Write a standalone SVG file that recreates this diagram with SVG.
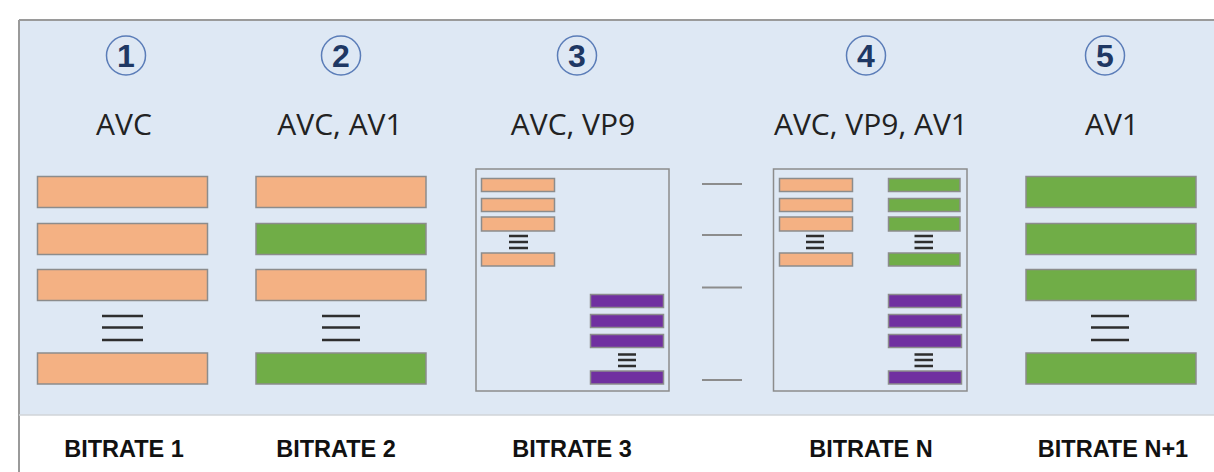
<svg xmlns="http://www.w3.org/2000/svg" width="1214" height="472" viewBox="0 0 1214 472">
<style>
.org{fill:#F4B183;stroke:#8C8C8C;stroke-width:1.5}
.grn{fill:#70AD47;stroke:#8C8C8C;stroke-width:1.5}
.pur{fill:#7030A0;stroke:#8C8C8C;stroke-width:1.5}
.eq{stroke:#2E2E2E;stroke-width:2.4;fill:none}
.eqs{stroke:#2E2E2E;stroke-width:2.4;fill:none}
.box{fill:none;stroke:#8C8C8C;stroke-width:1.5}
.dash{stroke:#8C8C8C;stroke-width:2}
.circ{fill:none;stroke:#5B7DB8;stroke-width:1.5}
.num{font-family:"Liberation Sans",Arial,sans-serif;font-weight:bold;font-size:32px;fill:#1F3864;text-anchor:middle}
.codec{font-family:"Open Sans","Liberation Sans",sans-serif;font-size:30px;fill:#222;text-anchor:middle}
.br{font-family:"Liberation Sans",Arial,sans-serif;font-weight:bold;font-size:23.5px;fill:#111;text-anchor:middle}
</style>
<rect x="0" y="0" width="1214" height="472" fill="#FFFFFF"/>
<g id="panel">
<rect x="19" y="20" width="1200" height="395" fill="#DEE8F4"/>
<line x1="19" y1="20" x2="1214" y2="20" stroke="#9A9A9A" stroke-width="2"/>
<line x1="19" y1="20" x2="19" y2="472" stroke="#9A9A9A" stroke-width="2"/>
<line x1="19" y1="415" x2="1214" y2="415" stroke="#D0D4D8" stroke-width="1.5"/>
</g>
<g id="col1">
<circle class="circ" cx="126" cy="55.5" r="19.5"/>
<text class="num" x="126" y="67">1</text>
<text class="codec" x="124" y="135">AVC</text>
<rect class="org" x="37.5" y="176.5" width="170" height="31"/>
<rect class="org" x="37.5" y="223.5" width="170" height="31"/>
<rect class="org" x="37.5" y="269.5" width="170" height="31"/>
<path class="eq" d="M102 316H143M102 327.5H143M102 340H143"/>
<rect class="org" x="37.5" y="353" width="170" height="31"/>
<text class="br" x="124" y="457">BITRATE 1</text>
</g>
<g id="col2">
<circle class="circ" cx="341" cy="55.5" r="19.5"/>
<text class="num" x="341" y="67">2</text>
<text class="codec" x="340" y="135">AVC, AV1</text>
<rect class="org" x="256" y="176.5" width="170" height="31"/>
<rect class="grn" x="256" y="223.5" width="170" height="31"/>
<rect class="org" x="256" y="269.5" width="170" height="31"/>
<path class="eq" d="M322 316H360M322 327.5H360M322 340H360"/>
<rect class="grn" x="256" y="353" width="170" height="31"/>
<text class="br" x="336" y="457">BITRATE 2</text>
</g>
<g id="col3">
<circle class="circ" cx="577" cy="55.5" r="19.5"/>
<text class="num" x="577" y="67">3</text>
<text class="codec" x="573" y="135">AVC, VP9</text>
<rect class="box" x="476" y="169" width="193" height="222"/>
<rect class="org" x="481.5" y="178.5" width="73" height="13"/>
<rect class="org" x="481.5" y="198.5" width="73" height="13"/>
<rect class="org" x="481.5" y="217" width="73" height="14"/>
<path class="eqs" d="M509 236H528M509 242H528M509 248H528"/>
<rect class="org" x="481.5" y="253" width="73" height="13"/>
<rect class="pur" x="590.5" y="294.5" width="73" height="13"/>
<rect class="pur" x="590.5" y="314.5" width="73" height="13"/>
<rect class="pur" x="590.5" y="334.5" width="73" height="13"/>
<path class="eqs" d="M618 354.5H636M618 360H636M618 366H636"/>
<rect class="pur" x="590.5" y="371" width="73" height="13"/>
<text class="br" x="572" y="457">BITRATE 3</text>
</g>
<g id="connectors">
<line class="dash" x1="702" y1="184" x2="742" y2="184"/>
<line class="dash" x1="702" y1="235" x2="742" y2="235"/>
<line class="dash" x1="702" y1="287.5" x2="742" y2="287.5"/>
<line class="dash" x1="702" y1="380" x2="742" y2="380"/>
</g>
<g id="col4">
<circle class="circ" cx="866" cy="55.5" r="19.5"/>
<text class="num" x="866" y="67">4</text>
<text class="codec" x="871" y="135">AVC, VP9, AV1</text>
<rect class="box" x="773.5" y="169" width="193.5" height="222"/>
<rect class="org" x="779.5" y="178.5" width="73" height="13"/>
<rect class="org" x="779.5" y="198.5" width="73" height="13"/>
<rect class="org" x="779.5" y="217" width="73" height="14"/>
<path class="eqs" d="M806 236H824M806 242H824M806 248H824"/>
<rect class="org" x="779.5" y="253" width="73" height="13"/>
<rect class="grn" x="888.5" y="178.5" width="71.5" height="13"/>
<rect class="grn" x="888.5" y="198.5" width="71.5" height="13"/>
<rect class="grn" x="888.5" y="217" width="71.5" height="14"/>
<path class="eqs" d="M914.5 236H933M914.5 242H933M914.5 248H933"/>
<rect class="grn" x="888.5" y="253" width="71.5" height="13"/>
<rect class="pur" x="888.5" y="294.5" width="73" height="13"/>
<rect class="pur" x="888.5" y="314.5" width="73" height="13"/>
<rect class="pur" x="888.5" y="334.5" width="73" height="13"/>
<path class="eqs" d="M914.5 354.5H933M914.5 360H933M914.5 366H933"/>
<rect class="pur" x="888.5" y="371" width="73" height="13"/>
<text class="br" x="871" y="457">BITRATE N</text>
</g>
<g id="col5">
<circle class="circ" cx="1105" cy="55.5" r="19.5"/>
<text class="num" x="1105" y="67">5</text>
<text class="codec" x="1112" y="135">AV1</text>
<rect class="grn" x="1026" y="176.5" width="170" height="31"/>
<rect class="grn" x="1026" y="223.5" width="170" height="31"/>
<rect class="grn" x="1026" y="269.5" width="170" height="31"/>
<path class="eq" d="M1091 316H1129M1091 327.5H1129M1091 340H1129"/>
<rect class="grn" x="1026" y="353" width="170" height="31"/>
<text class="br" x="1113" y="457">BITRATE N+1</text>
</g>
</svg>
